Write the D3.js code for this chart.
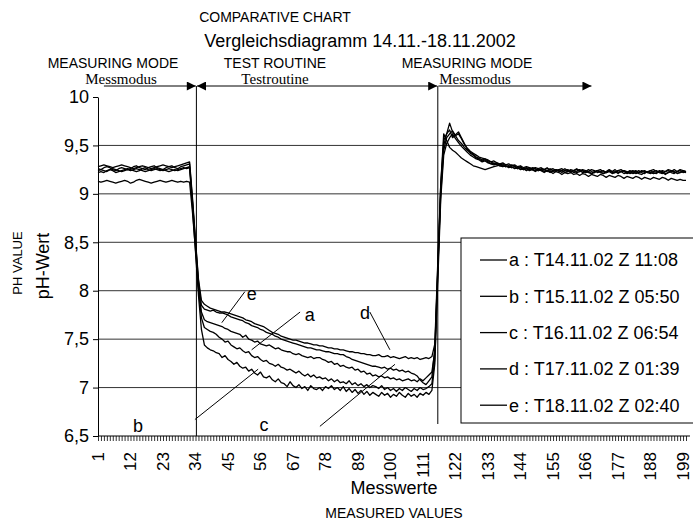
<!DOCTYPE html>
<html>
<head>
<meta charset="utf-8">
<script src="https://cdn.jsdelivr.net/npm/d3@7/dist/d3.min.js"></script>
<style>
  body { margin: 0; background: #fff; }
  text { font-family: Arial, "Liberation Sans", sans-serif; fill: #000; }
  .serif { font-family: "Times New Roman", "Liberation Serif", serif; }
</style>
</head>
<body>
<div class="svg-container"></div>
<script>
// measured values 1..200
const categories = d3.range(1, 201);
const xTickLabels = [1, 12, 23, 34, 45, 56, 67, 78, 89, 100, 111, 122, 133, 144, 155, 166, 177, 188, 199];
const yTicks = [6.5, 7, 7.5, 8, 8.5, 9, 9.5, 10];
const legendLabels = [
  "a : T14.11.02 Z 11:08",
  "b : T15.11.02 Z 05:50",
  "c : T16.11.02 Z 06:54",
  "d : T17.11.02 Z 01:39",
  "e : T18.11.02 Z 02:40"
];

// pH values (index 1..200)
const seriesA = [
  9.24, 9.25, 9.24, 9.23, 9.25, 9.26, 9.25, 9.24, 9.23, 9.24,
  9.25, 9.24, 9.25, 9.26, 9.25, 9.24, 9.23, 9.24, 9.25, 9.26,
  9.25, 9.24, 9.25, 9.24, 9.23, 9.24, 9.25, 9.24, 9.25, 9.26,
  9.27, 9.28,
  8.90, 8.48, 8.05, 7.78, 7.70,
  7.68, 7.67, 7.66, 7.65, 7.64, 7.63, 7.61, 7.60, 7.58, 7.57,
  7.56, 7.55, 7.52, 7.54, 7.50, 7.49, 7.47, 7.48, 7.45, 7.44,
  7.43, 7.44, 7.42, 7.40, 7.41, 7.39, 7.38, 7.37, 7.37, 7.35,
  7.34, 7.35, 7.33, 7.32, 7.31, 7.32, 7.30, 7.31, 7.31, 7.29,
  7.28, 7.26, 7.27, 7.24, 7.25, 7.22, 7.23, 7.21, 7.20, 7.21,
  7.18, 7.19, 7.16, 7.17, 7.14, 7.15, 7.12, 7.13, 7.11, 7.12,
  7.10, 7.11, 7.09, 7.10, 7.08, 7.09, 7.07, 7.08, 7.09, 7.07,
  7.08, 7.06, 7.09, 7.07, 7.10, 7.13, 7.16,
  7.38, 8.20, 9.00, 9.45, 9.58,
  9.62, 9.65, 9.60, 9.55, 9.52, 9.48, 9.45, 9.43, 9.41, 9.38,
  9.37, 9.35, 9.36, 9.34, 9.33, 9.31, 9.32, 9.30, 9.31, 9.29,
  9.28, 9.30, 9.29, 9.27, 9.28, 9.26, 9.27, 9.25, 9.27, 9.26,
  9.24, 9.26, 9.25, 9.23, 9.26, 9.24, 9.25, 9.23, 9.24, 9.26,
  9.24, 9.22, 9.24, 9.26, 9.24, 9.22, 9.23, 9.25, 9.23, 9.22,
  9.24, 9.25, 9.23, 9.22, 9.24, 9.22, 9.23, 9.21, 9.23, 9.24,
  9.23, 9.21, 9.22, 9.24, 9.22, 9.23, 9.24, 9.22, 9.21, 9.23,
  9.24, 9.22, 9.21, 9.23, 9.24, 9.22, 9.21, 9.23, 9.24, 9.22,
  9.23
];
const seriesB = [
  9.22, 9.23, 9.22, 9.24, 9.25, 9.24, 9.22, 9.23, 9.24, 9.25,
  9.26, 9.25, 9.24, 9.23, 9.24, 9.26, 9.27, 9.25, 9.24, 9.25,
  9.26, 9.25, 9.24, 9.25, 9.26, 9.25, 9.24, 9.25, 9.26, 9.27,
  9.26, 9.27,
  8.85, 8.40, 7.95, 7.60, 7.44,
  7.41, 7.39, 7.38, 7.36, 7.35, 7.31, 7.33, 7.29, 7.27, 7.24,
  7.26, 7.22, 7.20, 7.21, 7.17, 7.19, 7.15, 7.13, 7.16, 7.11,
  7.10, 7.12, 7.08, 7.06, 7.09, 7.05, 7.04, 7.01, 7.06, 7.02,
  7.00, 7.03, 6.99, 7.01, 6.97, 7.02, 6.99, 6.98, 7.00, 6.97,
  7.01, 6.99, 7.02, 6.98, 7.00, 6.97, 7.01, 6.96, 6.99, 6.95,
  6.98, 6.94, 6.97, 6.93, 6.96, 6.92, 6.95, 6.93, 6.91, 6.95,
  6.92, 6.94, 6.90, 6.93, 6.91, 6.95, 6.92, 6.90, 6.94, 6.91,
  6.93, 6.90, 6.94, 6.92, 6.95, 6.93, 6.97,
  7.25, 8.20, 9.10, 9.62, 9.55,
  9.48, 9.45, 9.43, 9.40, 9.37, 9.35, 9.33, 9.31, 9.29, 9.28,
  9.27, 9.26, 9.25, 9.26, 9.27, 9.28, 9.29, 9.30, 9.29, 9.28,
  9.29, 9.27, 9.28, 9.26, 9.27, 9.25, 9.26, 9.24, 9.25, 9.26,
  9.24, 9.25, 9.23, 9.24, 9.22, 9.24, 9.23, 9.25, 9.24, 9.22,
  9.23, 9.24, 9.22, 9.23, 9.25, 9.24, 9.22, 9.23, 9.21, 9.22,
  9.24, 9.23, 9.21, 9.22, 9.24, 9.23, 9.25, 9.22, 9.23, 9.24,
  9.22, 9.24, 9.23, 9.21, 9.22, 9.24, 9.23, 9.22, 9.24, 9.25,
  9.23, 9.22, 9.24, 9.23, 9.25, 9.24, 9.22, 9.23, 9.25, 9.24,
  9.23
];
const seriesC = [
  9.13, 9.12, 9.13, 9.14, 9.13, 9.12, 9.11, 9.12, 9.13, 9.14,
  9.13, 9.11, 9.12, 9.14, 9.15, 9.14, 9.13, 9.12, 9.11, 9.12,
  9.13, 9.14, 9.13, 9.12, 9.13, 9.14, 9.13, 9.12, 9.13, 9.12,
  9.13, 9.12,
  8.80, 8.42, 8.02, 7.72, 7.62,
  7.60, 7.58, 7.57, 7.55, 7.52, 7.50, 7.47, 7.48, 7.44, 7.42,
  7.40, 7.41, 7.38, 7.36, 7.37, 7.33, 7.31, 7.32, 7.29, 7.27,
  7.28, 7.25, 7.24, 7.22, 7.24, 7.21, 7.20, 7.18, 7.19, 7.17,
  7.15, 7.17, 7.14, 7.12, 7.14, 7.11, 7.13, 7.10, 7.11, 7.09,
  7.10, 7.07, 7.09, 7.06, 7.08, 7.05, 7.06, 7.04, 7.07, 7.03,
  7.05, 7.02, 7.04, 7.01, 7.03, 7.00, 7.02, 7.01, 6.99, 7.02,
  6.98, 7.00, 6.97, 6.99, 6.96, 6.99, 6.97, 7.00, 6.98, 6.96,
  6.99, 6.97, 7.00, 6.98, 6.99, 7.01, 7.04,
  7.30, 8.10, 8.95, 9.40, 9.52,
  9.58, 9.62, 9.57, 9.53, 9.49, 9.46, 9.43, 9.40, 9.38, 9.36,
  9.35, 9.33, 9.34, 9.32, 9.31, 9.30, 9.31, 9.29, 9.28, 9.29,
  9.27, 9.28, 9.26, 9.27, 9.25, 9.26, 9.24, 9.26, 9.25, 9.23,
  9.25, 9.24, 9.22, 9.24, 9.23, 9.21, 9.23, 9.22, 9.20, 9.22,
  9.21, 9.22, 9.20, 9.21, 9.19, 9.21, 9.20, 9.18, 9.20, 9.19,
  9.18, 9.20, 9.19, 9.17, 9.19, 9.18, 9.17, 9.19, 9.18, 9.16,
  9.18, 9.17, 9.16, 9.18, 9.17, 9.15, 9.17, 9.16, 9.15, 9.17,
  9.16, 9.15, 9.17, 9.16, 9.14, 9.16, 9.15, 9.14, 9.15, 9.14,
  9.14
];
const seriesD = [
  9.28, 9.29, 9.30, 9.29, 9.28, 9.27, 9.28, 9.29, 9.30, 9.29,
  9.28, 9.27, 9.26, 9.27, 9.28, 9.29, 9.28, 9.27, 9.26, 9.27,
  9.28, 9.29, 9.30, 9.29, 9.28, 9.27, 9.28, 9.29, 9.30, 9.31,
  9.32, 9.33,
  8.95, 8.52, 8.12, 7.90, 7.86,
  7.84, 7.82, 7.81, 7.80, 7.79, 7.78, 7.78, 7.77, 7.76, 7.75,
  7.74, 7.73, 7.72, 7.70, 7.69, 7.68, 7.66, 7.65, 7.64, 7.63,
  7.61, 7.59, 7.57, 7.56, 7.55, 7.53, 7.52, 7.51, 7.50, 7.49,
  7.49, 7.48, 7.47, 7.46, 7.46, 7.45, 7.44, 7.44, 7.43, 7.43,
  7.42, 7.41, 7.41, 7.40, 7.40, 7.39, 7.39, 7.38, 7.37, 7.37,
  7.36, 7.36, 7.35, 7.35, 7.34, 7.34, 7.33, 7.33, 7.34, 7.32,
  7.32, 7.33, 7.31, 7.32, 7.31, 7.30, 7.31, 7.32, 7.30, 7.31,
  7.30, 7.31, 7.29, 7.30, 7.31, 7.30, 7.32,
  7.45, 8.30, 9.10, 9.55, 9.62,
  9.73, 9.64, 9.60, 9.62, 9.57, 9.51, 9.47, 9.44, 9.42, 9.40,
  9.38, 9.37, 9.36, 9.35, 9.33, 9.34, 9.32, 9.31, 9.32, 9.30,
  9.31, 9.29, 9.30, 9.28, 9.29, 9.27, 9.28, 9.27, 9.26, 9.27,
  9.26, 9.27, 9.25, 9.26, 9.25, 9.26, 9.24, 9.25, 9.26, 9.24,
  9.25, 9.23, 9.24, 9.25, 9.23, 9.24, 9.22, 9.23, 9.25, 9.24,
  9.22, 9.23, 9.24, 9.22, 9.23, 9.21, 9.22, 9.24, 9.23, 9.21,
  9.22, 9.23, 9.21, 9.22, 9.24, 9.22, 9.21, 9.23, 9.22, 9.21,
  9.22, 9.24, 9.23, 9.21, 9.22, 9.23, 9.25, 9.23, 9.22, 9.24,
  9.23
];
const seriesE = [
  9.26, 9.25, 9.27, 9.28, 9.27, 9.25, 9.24, 9.26, 9.27, 9.26,
  9.25, 9.26, 9.28, 9.29, 9.27, 9.26, 9.25, 9.27, 9.28, 9.29,
  9.27, 9.26, 9.25, 9.27, 9.28, 9.29, 9.27, 9.26, 9.28, 9.29,
  9.30, 9.31,
  8.92, 8.50, 8.10, 7.85, 7.81,
  7.80, 7.79, 7.80, 7.78, 7.77, 7.77, 7.76, 7.75, 7.73, 7.72,
  7.71, 7.70, 7.69, 7.67, 7.66, 7.64, 7.63, 7.62, 7.60, 7.59,
  7.57, 7.56, 7.55, 7.53, 7.52, 7.50, 7.49, 7.48, 7.47, 7.46,
  7.45, 7.44, 7.43, 7.42, 7.41, 7.41, 7.40, 7.39, 7.39, 7.38,
  7.37, 7.37, 7.36, 7.35, 7.35, 7.34, 7.34, 7.32, 7.31, 7.29,
  7.28, 7.27, 7.26, 7.25, 7.24, 7.23, 7.22, 7.22, 7.21, 7.20,
  7.21, 7.19, 7.20, 7.18, 7.19, 7.17, 7.18, 7.16, 7.17, 7.15,
  7.14, 7.12, 7.08, 7.05, 7.03, 7.07, 7.11,
  7.40, 8.25, 9.05, 9.50, 9.62,
  9.66, 9.58, 9.61, 9.64, 9.58, 9.52, 9.46, 9.42, 9.40, 9.37,
  9.36, 9.34, 9.35, 9.33, 9.31, 9.32, 9.30, 9.29, 9.30, 9.28,
  9.29, 9.27, 9.28, 9.26, 9.27, 9.25, 9.26, 9.27, 9.25, 9.24,
  9.26, 9.24, 9.25, 9.27, 9.24, 9.23, 9.25, 9.24, 9.22, 9.24,
  9.23, 9.25, 9.24, 9.22, 9.23, 9.25, 9.24, 9.22, 9.21, 9.23,
  9.24, 9.22, 9.21, 9.23, 9.25, 9.23, 9.22, 9.24, 9.25, 9.23,
  9.21, 9.22, 9.24, 9.23, 9.21, 9.20, 9.22, 9.23, 9.24, 9.22,
  9.21, 9.23, 9.22, 9.20, 9.22, 9.24, 9.23, 9.21, 9.22, 9.23,
  9.22
];
const allSeries = [seriesA, seriesB, seriesC, seriesD, seriesE];

// letter labels + pointer lines, in data units [index, pH]
const letterNames = ["a", "b", "c", "d", "e"];
const letterPos = [[72.7, 7.75], [14.5, 6.61], [57.2, 6.62], [91.4, 7.77], [53.0, 7.97]];
const pointerLines = [
  [[69.4, 7.78], [53.0, 7.39]],
  [[33.8, 6.67], [55.2, 7.19]],
  [[76.1, 6.60], [101.5, 7.24]],
  [[93.0, 7.78], [99.8, 7.39]],
  [[42.9, 7.67], [50.7, 7.99]]
];
// phase arrows at the top [from, to, headAtStart]
const phaseArrows = [[3, 34.1, false], [34.5, 115.8, true], [116.2, 168, false]];
const phaseBounds = [34.3, 116];

const w = 693;
const h = 522;
const plotLeft = 98, plotRight = 686, plotTop = 97, plotBottom = 436;

const x = d3.scaleLinear().domain([1, 200]).range([plotLeft, plotRight]);
const y = d3.scaleLinear().domain([6.5, 10]).range([plotBottom, plotTop]);

const svg = d3.select(".svg-container")
  .append("svg")
  .attr("width", w)
  .attr("height", h);

svg.append("defs").append("marker")
  .attr("id", "head")
  .attr("viewBox", "0 0 10 10")
  .attr("refX", 10).attr("refY", 5)
  .attr("markerWidth", 10).attr("markerHeight", 9)
  .attr("markerUnits", "userSpaceOnUse")
  .attr("orient", "auto-start-reverse")
  .append("path")
  .attr("d", "M0,0 L10,5 L0,10 Z")
  .attr("fill", "#000");

// gridlines
svg.append("g")
  .selectAll("line")
  .data(yTicks.filter(d => d > 6.5 && d < 10))
  .enter()
  .append("line")
  .attr("x1", plotLeft).attr("x2", 690)
  .attr("y1", d => y(d)).attr("y2", d => y(d))
  .attr("stroke", "#333")
  .attr("stroke-width", 1);

// Y AXIS
const yAxis = d3.axisLeft(y)
  .tickValues(yTicks)
  .tickSize(5)
  .tickSizeOuter(0)
  .tickFormat(d => String(d).replace(".", ","));

svg.append("g")
  .attr("id", "y-axis")
  .attr("transform", "translate(" + plotLeft + ",0)")
  .call(yAxis)
  .call(g => g.selectAll("text").attr("font-size", 18).attr("x", -9))
  .call(g => g.selectAll("line, path").attr("stroke", "#000"));

// X AXIS: a tick for each value
const xAxis = d3.axisBottom(x)
  .tickValues(categories)
  .tickSize(5)
  .tickSizeOuter(0)
  .tickFormat("");

svg.append("g")
  .attr("id", "x-axis")
  .attr("transform", "translate(0," + plotBottom + ")")
  .call(xAxis)
  .call(g => g.select(".domain").attr("d", "M" + plotLeft + ",0H690").attr("stroke", "#000"))
  .call(g => g.selectAll(".tick line").attr("stroke", "#000").attr("stroke-width", 0.8));

svg.append("g")
  .selectAll("text")
  .data(xTickLabels)
  .enter()
  .append("text")
  .attr("transform", d => "translate(" + x(d) + ",452) rotate(-90)")
  .attr("text-anchor", "end")
  .attr("dy", "0.35em")
  .attr("font-size", 17)
  .text(d => d);

// phase separators and arrows
svg.append("g")
  .selectAll("line")
  .data(phaseBounds)
  .enter()
  .append("line")
  .attr("x1", d => x(d)).attr("x2", d => x(d))
  .attr("y1", 86)
  .attr("y2", (d, i) => i === 0 ? plotBottom : 424)
  .attr("stroke", "#000");

svg.append("g")
  .selectAll("line")
  .data(phaseArrows)
  .enter()
  .append("line")
  .attr("x1", d => x(d[0])).attr("x2", d => x(d[1]))
  .attr("y1", 86).attr("y2", 86)
  .attr("stroke", "#000")
  .attr("marker-end", "url(#head)")
  .attr("marker-start", d => d[2] ? "url(#head)" : null);

// LINES
const line = d3.line()
  .x((d, i) => x(categories[i]))
  .y(d => y(d));

svg.append("g")
  .selectAll("path")
  .data(allSeries)
  .enter()
  .append("path")
  .attr("d", line)
  .attr("fill", "none")
  .attr("stroke", "#000")
  .attr("stroke-width", 1.3)
  .attr("stroke-linejoin", "round");

// letter labels
svg.append("g")
  .selectAll("line")
  .data(pointerLines)
  .enter()
  .append("line")
  .attr("x1", d => x(d[0][0])).attr("y1", d => y(d[0][1]))
  .attr("x2", d => x(d[1][0])).attr("y2", d => y(d[1][1]))
  .attr("stroke", "#000");

svg.append("g")
  .selectAll("text")
  .data(letterNames)
  .enter()
  .append("text")
  .attr("x", (d, i) => x(letterPos[i][0]))
  .attr("y", (d, i) => y(letterPos[i][1]))
  .attr("dy", "0.35em")
  .attr("text-anchor", "middle")
  .attr("font-size", 18)
  .text(d => d);

// legend
const legend = svg.append("g").attr("transform", "translate(461,238)");
legend.append("rect")
  .attr("width", 260).attr("height", 185)
  .attr("fill", "#fff")
  .attr("stroke", "#000");
const item = legend.selectAll(".item")
  .data(legendLabels)
  .enter()
  .append("g")
  .attr("transform", (d, i) => "translate(0," + (22 + i * 36.3) + ")");
item.append("line")
  .attr("x1", 19).attr("x2", 46)
  .attr("stroke", "#000").attr("stroke-width", 1.3);
item.append("text")
  .attr("x", 48).attr("dy", "0.35em")
  .attr("font-size", 18)
  .text(d => d);

// titles
svg.append("text").attr("x", 275).attr("y", 22).attr("text-anchor", "middle")
  .attr("font-size", 14).text("COMPARATIVE CHART");
svg.append("text").attr("x", 360).attr("y", 47).attr("text-anchor", "middle")
  .attr("font-size", 18).text("Vergleichsdiagramm 14.11.-18.11.2002");

const phaseTitles = [[113, "MEASURING MODE", "Messmodus"], [275, "TEST ROUTINE", "Testroutine"], [467, "MEASURING MODE", "Messmodus"]];
phaseTitles.forEach(p => {
  svg.append("text").attr("x", p[0]).attr("y", 68).attr("text-anchor", "middle")
    .attr("font-size", 14).text(p[1]);
  svg.append("text").attr("class", "serif").attr("x", p[0] + (p[2] === "Testroutine" ? 0 : 8)).attr("y", 84)
    .attr("text-anchor", "middle").attr("font-size", 15).text(p[2]);
});

// axis titles
svg.append("text")
  .attr("transform", "translate(22,263) rotate(-90)")
  .attr("text-anchor", "middle")
  .attr("font-size", 13)
  .text("PH VALUE");
svg.append("text")
  .attr("transform", "translate(49,266) rotate(-90)")
  .attr("text-anchor", "middle")
  .attr("font-size", 18)
  .text("pH-Wert");
svg.append("text").attr("x", 394).attr("y", 494).attr("text-anchor", "middle")
  .attr("font-size", 18).text("Messwerte");
svg.append("text").attr("x", 394).attr("y", 518).attr("text-anchor", "middle")
  .attr("font-size", 14).text("MEASURED VALUES");
</script>
</body>
</html>
